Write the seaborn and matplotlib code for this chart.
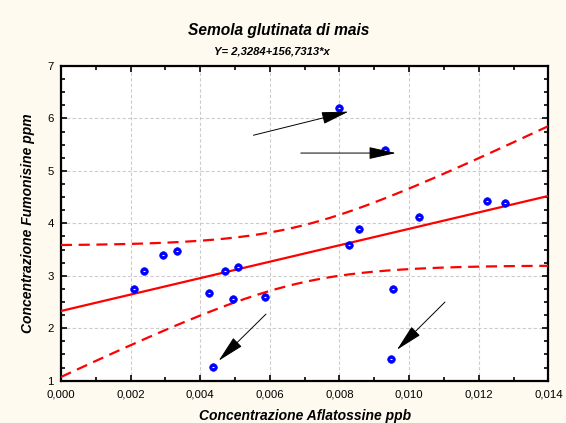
import numpy as np
import pandas as pd
import seaborn as sns
import matplotlib
matplotlib.use("Agg")
import matplotlib.pyplot as plt
from matplotlib.ticker import MultipleLocator, FuncFormatter

# Observed concentrations
aflatossine = [0.00211, 0.00240, 0.00292, 0.00333, 0.00424, 0.00437, 0.00471,
               0.00494, 0.00510, 0.00586, 0.00798, 0.00828, 0.00857, 0.00930,
               0.00954, 0.00948, 0.01029, 0.01224, 0.01276]
fumonisine = [2.74, 3.09, 3.40, 3.47, 2.67, 1.26, 3.09,
              2.55, 3.17, 2.59, 6.19, 3.58, 3.89, 5.39,
              2.74, 1.41, 4.12, 4.43, 4.39]

# Fitted model  Y = a + b*x
intercetta = 2.3284
pendenza = 156.7313

# Annotation arrows: (start x, start y, tip x, tip y)
frecce_x0 = [0.00553, 0.00689, 0.00589, 0.01103]
frecce_y0 = [5.68, 5.34, 2.27, 2.50]
frecce_x1 = [0.00826, 0.00962, 0.00453, 0.00965]
frecce_y1 = [6.13, 5.34, 1.38, 1.59]

df = pd.DataFrame({"x": aflatossine, "y": fumonisine})

sns.set_theme(style="white")
plt.rcParams["font.family"] = ["Liberation Sans", "DejaVu Sans"]
plt.rcParams["text.color"] = "black"
plt.rcParams["axes.labelcolor"] = "black"

bg = "#fefaf0"
fig = plt.figure(figsize=(5.66, 4.23), dpi=100, facecolor=bg)
ax = fig.add_axes([0.1075, 0.100, 0.8615, 0.744])
ax.set_facecolor("white")

# regression line and 95% confidence band for the mean
xs = np.linspace(0.0, 0.014, 200)
yhat = intercetta + pendenza * xs
xa = np.asarray(aflatossine)
ya = np.asarray(fumonisine)
n = len(xa)
res = ya - (intercetta + pendenza * xa)
s = np.sqrt(np.sum(res ** 2) / (n - 2))
sxx = np.sum((xa - xa.mean()) ** 2)
t = 2.1098
half = t * s * np.sqrt(1.0 / n + (xs - xa.mean()) ** 2 / sxx)

sns.lineplot(x=xs, y=yhat, ax=ax, color="#ff0000", lw=1.6, zorder=3)
sns.lineplot(x=xs, y=yhat + half, ax=ax, color="#ff0000", lw=1.6,
             zorder=3).lines[-1].set_dashes([5, 3])
sns.lineplot(x=xs, y=yhat - half, ax=ax, color="#ff0000", lw=1.6,
             zorder=3).lines[-1].set_dashes([5, 3])

sns.scatterplot(data=df, x="x", y="y", ax=ax, color="#0000ff", s=30,
                edgecolor="#0000ff", linewidth=0.5, zorder=4)
ax.scatter(df["x"], df["y"], marker="_", s=4, color="white", linewidths=0.8,
           zorder=5)

for x0, y0, x1, y1 in zip(frecce_x0, frecce_y0, frecce_x1, frecce_y1):
    ax.annotate("", xy=(x1, y1), xytext=(x0, y0),
                arrowprops=dict(arrowstyle="-|>,head_length=1.7,head_width=0.38",
                                color="black", lw=0.7, shrinkA=0, shrinkB=0,
                                mutation_scale=10),
                zorder=6)

ax.set_xlim(0.0, 0.014)
ax.set_ylim(1, 7)
ax.xaxis.set_major_locator(MultipleLocator(0.002))
ax.xaxis.set_minor_locator(MultipleLocator(0.001))
ax.yaxis.set_major_locator(MultipleLocator(1))
ax.yaxis.set_minor_locator(MultipleLocator(0.25))
ax.xaxis.set_major_formatter(FuncFormatter(lambda v, p: f"{v:.3f}".replace(".", ",")))
ax.yaxis.set_major_formatter(FuncFormatter(lambda v, p: f"{v:.0f}"))

ax.grid(True, which="major", color="#cccccc", linestyle=(0, (3, 2)), lw=0.8)
ax.set_axisbelow(True)
ax.tick_params(which="both", direction="in", top=True, right=True,
               bottom=True, left=True, color="black", labelcolor="black")
ax.tick_params(axis="x", which="major", labelsize=8.2, pad=6)
ax.tick_params(axis="y", which="major", labelsize=8.2, pad=5)
ax.tick_params(which="major", length=4, width=1.2)
ax.tick_params(which="minor", length=3, width=1.2)
for sp in ax.spines.values():
    sp.set_color("black")
    sp.set_linewidth(1.6)

ax.set_xlabel("Concentrazione Aflatossine ppb", fontsize=10, color="black",
              fontweight="bold", fontstyle="italic", labelpad=7)
ax.set_ylabel("Concentrazione Fumonisine ppm", fontsize=10, color="black",
              fontweight="bold", fontstyle="italic", labelpad=9)

fig.text(0.493, 0.929, "Semola glutinata di mais", ha="center", va="center",
         fontsize=11.2, fontweight="bold", fontstyle="italic", color="black")
fig.text(0.480, 0.879, "Y= 2,3284+156,7313*x", ha="center", va="center",
         fontsize=8.1, fontweight="bold", fontstyle="italic", color="black")

fig.savefig("out.png", dpi=100, facecolor=bg)
